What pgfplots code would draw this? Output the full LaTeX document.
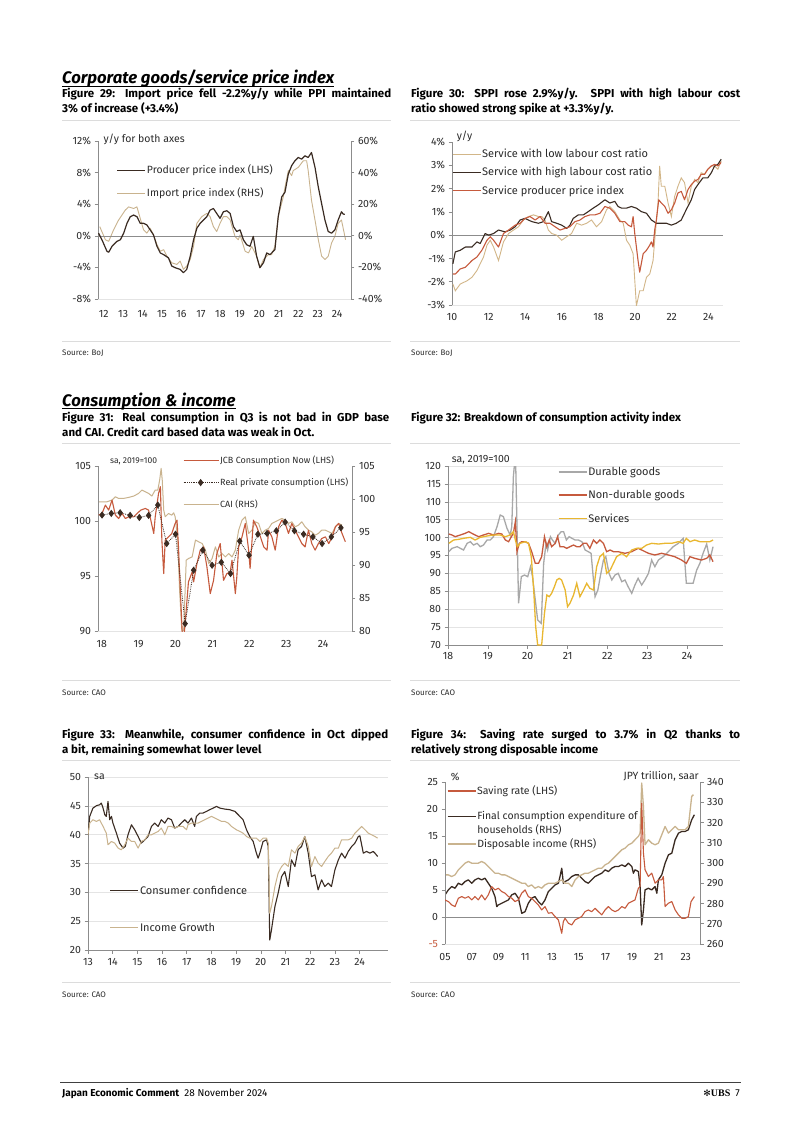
\documentclass[border=0pt]{standalone}
\usepackage{fontspec}
\setmainfont{Fira Sans}
\newfontfamily\symfont{DejaVu Sans}
\newfontfamily\ubsfont{Liberation Serif}
\usepackage{pgfplots}
\pgfplotsset{compat=1.18}
\definecolor{dk}{HTML}{3A2B22}
\definecolor{tn}{HTML}{C9B38E}
\definecolor{tl2}{HTML}{D2B688}
\definecolor{rd}{HTML}{C65A3D}
\definecolor{gy}{HTML}{A8A8A8}
\definecolor{yl}{HTML}{E9B730}
\definecolor{ax}{HTML}{8C8C8C}
\definecolor{grd}{HTML}{E4E4E4}
\definecolor{rule}{HTML}{DCDCDC}
\definecolor{txt}{HTML}{2B2B2B}
\pgfplotsset{
  ch/.style={
    scale only axis, anchor=south west, clip mode=individual,
    /pgf/number format/assume math mode=true,
    axis line style={draw=ax, line width=0.6pt},
    tick style={draw=ax, line width=0.6pt},
    major tick length=3.5pt,
    ticklabel style={font=\fontsize{10.5}{12}\selectfont, text=txt},
    legend cell align=left,
    legend style={draw=none, fill=none, inner sep=0pt, outer sep=0pt, anchor=north west, text=txt,
      nodes={inner sep=1pt}, /tikz/every even column/.append style={column sep=2pt}},
    legend image code/.code={\draw[##1, mark repeat=2, mark phase=2] plot coordinates {(0pt,0pt) (14pt,0pt) (28pt,0pt)};},
  },
  lft/.style={axis y line*=left, axis x line*=bottom, tick align=outside, ytick pos=left},
  rgt/.style={axis y line*=right, axis x line=none, tick align=outside, ytick pos=right},
  sdk/.style={color=dk, line width=1.1pt, mark=none, line join=round},
  stn/.style={color=tn, line width=0.9pt, mark=none, line join=round},
  srd/.style={color=rd, line width=1.1pt, mark=none, line join=round},
}
\tikzset{
  tl/.style={anchor=base west, inner sep=0pt, font=\bfseries\fontsize{11.5}{13}\selectfont, text=black},
  hd/.style={anchor=base west, inner sep=0pt, font=\bfseries\itshape\fontsize{16.7}{19}\selectfont, text=black},
  src/.style={anchor=base west, inner sep=0pt, font=\fontsize{8}{9}\selectfont, text=txt},
  note/.style={inner sep=0pt, font=\fontsize{10.5}{12}\selectfont, text=txt},
}
\begin{document}
\begin{tikzpicture}
\path[use as bounding box, fill=white] (0pt,0pt) rectangle (802pt,-1134pt);

% ---------------- headings, titles, rules, sources
\node[hd] (h1) at (62pt,-84pt) {Corporate goods/service price index};
\draw[black, line width=1.1pt] ([yshift=-2.2pt]h1.base west) -- ([yshift=-2.2pt]h1.base east);
\node[hd] (h2) at (62pt,-406pt) {Consumption \& income};
\draw[black, line width=1.1pt] ([yshift=-2.2pt]h2.base west) -- ([yshift=-2.2pt]h2.base east);
\node[tl] at (62pt,-98pt) {\makebox[329pt][s]{Figure 29: Import price fell -2.2\%y/y while PPI maintained}};
\node[tl] at (62pt,-113pt) {3\% of increase (+3.4\%)};
\node[tl] at (411pt,-98pt) {\makebox[329pt][s]{Figure 30: SPPI rose 2.9\%y/y. SPPI with high labour cost}};
\node[tl] at (411pt,-113pt) {ratio showed strong spike at +3.3\%y/y.};
\node[tl] at (62pt,-421.7pt) {\makebox[327pt][s]{Figure 31: Real consumption in Q3 is not bad in GDP base}};
\node[tl] at (62pt,-436.7pt) {and CAI. Credit card based data was weak in Oct.};
\node[tl] at (411pt,-421.7pt) {Figure 32: Breakdown of consumption activity index};
\node[tl] at (62pt,-738.5pt) {\makebox[326pt][s]{Figure 33: Meanwhile, consumer confidence in Oct dipped}};
\node[tl] at (62pt,-753pt) {a bit, remaining somewhat lower level};
\node[tl] at (411pt,-738.5pt) {\makebox[329pt][s]{Figure 34: Saving rate surged to 3.7\% in Q2 thanks to}};
\node[tl] at (411pt,-753pt) {relatively strong disposable income};
\foreach \yy in {120,341,443,680,760,982}{
  \draw[rule, line width=0.5pt] (62pt,-\yy pt) -- (391pt,-\yy pt);
  \draw[rule, line width=0.5pt] (410pt,-\yy pt) -- (740pt,-\yy pt);
}
\node[src] at (62pt,-355.5pt) {Source: BoJ};
\node[src] at (411pt,-355.5pt) {Source: BoJ};
\node[src] at (62pt,-695pt) {Source: CAO};
\node[src] at (411pt,-695pt) {Source: CAO};
\node[src] at (62pt,-997pt) {Source: CAO};
\node[src] at (411pt,-997pt) {Source: CAO};
\draw[black!75, line width=0.8pt] (60pt,-1082pt) -- (741pt,-1082pt);
\node[anchor=base west, inner sep=0pt, font=\fontsize{10}{11}\selectfont] at (62pt,-1096.5pt) {\textbf{Japan Economic Comment}\enspace 28 November 2024};
\node[anchor=base east, inner sep=0pt, font=\fontsize{10}{11}\selectfont] at (740pt,-1096.5pt) {{\symfont\small ✻}{\ubsfont\bfseries UBS}\enspace 7};

% ================= Figure 29 =================
\begin{axis}[ch, rgt, at={(98pt,-299pt)}, width=253pt, height=158pt,
  xmin=2012, xmax=2025, ymin=-40, ymax=60,
  ytick={-40,-20,0,20,40,60}, yticklabels={-40\%,-20\%,0\%,20\%,40\%,60\%}]
\addplot[stn] coordinates {(2012.09,5.8)(2012.38,-2.5)(2012.55,-3.5)(2012.8,3.75)(2013.06,10)(2013.23,13.1)(2013.4,16.25)(2013.57,18.3)(2013.83,17.3)(2014.0,18.3)(2014.17,11)(2014.34,3.75)(2014.51,1.7)(2014.68,4.8)(2014.85,0.6)(2015.03,-5.6)(2015.2,-9.8)(2015.37,-8.75)(2015.54,-12.9)(2015.79,-17.1)(2016.05,-18.1)(2016.22,-16)(2016.39,-21.25)(2016.56,-19.2)(2016.74,-15)(2016.91,-6.7)(2017.08,7.9)(2017.33,12.1)(2017.59,14.2)(2017.76,12.1)(2017.93,5.8)(2018.1,2.7)(2018.27,7.9)(2018.44,12.1)(2018.62,12.1)(2018.79,10)(2019.04,-0.4)(2019.21,-2.5)(2019.3,0.6)(2019.56,-9.8)(2019.73,-10.8)(2019.9,-6.7)(2020.15,-12.9)(2020.32,-20.2)(2020.5,-15)(2020.75,-11.9)(2020.92,-11.9)(2021.09,-6.7)(2021.26,12.1)(2021.52,24.6)(2021.61,30.8)(2021.78,41.25)(2021.95,38.1)(2022.03,41.25)(2022.29,43.3)(2022.55,47.5)(2022.72,47.5)(2022.8,41.25)(2022.97,22.5)(2023.15,10)(2023.32,-2.5)(2023.49,-12.9)(2023.66,-15)(2023.83,-12.9)(2024.0,-4.6)(2024.17,-0.4)(2024.34,7.9)(2024.51,10)(2024.65,1.7)(2024.72,-2.5)};
\end{axis}
\begin{axis}[ch, lft, at={(98pt,-299pt)}, width=253pt, height=158pt,
  xmin=2012, xmax=2025, ymin=-8, ymax=12,
  x axis line style={draw=grd}, xtick style={draw=none},
  ytick={-8,-4,0,4,8,12}, yticklabels={-8\%,-4\%,0\%,4\%,8\%,12\%},
  xtick={2012.29,2013.29,2014.29,2015.29,2016.29,2017.29,2018.29,2019.29,2020.29,2021.29,2022.29,2023.29,2024.29},
  xticklabels={12,13,14,15,16,17,18,19,20,21,22,23,24},
  xticklabel style={yshift=-4pt},
  legend style={at={(0.074,0.854)}, row sep=10.5pt, font=\fontsize{10.5}{12}\selectfont}]
\draw[ax, line width=0.6pt] (axis cs:2012,0) -- (axis cs:2025,0);
\addplot[sdk, line width=1.2pt] coordinates {(2012.03,0.33)(2012.24,-0.71)(2012.46,-1.96)(2012.55,-2.08)(2012.72,-1.33)(2012.97,-0.71)(2013.15,-0.5)(2013.32,0.33)(2013.49,1.58)(2013.66,2.42)(2013.83,2.63)(2014.0,2.42)(2014.17,1.58)(2014.34,1.58)(2014.51,1.38)(2014.68,0.75)(2014.85,0.13)(2015.03,-1.33)(2015.2,-2.17)(2015.37,-2.38)(2015.62,-2.79)(2015.79,-3.83)(2015.97,-4.04)(2016.22,-4.25)(2016.39,-4.67)(2016.56,-4.25)(2016.74,-2.58)(2016.91,-0.5)(2017.08,0.96)(2017.25,1.58)(2017.42,2.0)(2017.59,2.42)(2017.76,3.25)(2017.93,3.46)(2018.1,2.83)(2018.27,2.21)(2018.44,3.04)(2018.62,3.17)(2018.79,2.83)(2018.96,1.17)(2019.13,0.54)(2019.3,0.75)(2019.47,-0.5)(2019.64,-1.13)(2019.81,-1.33)(2019.98,-0.08)(2020.15,-2.58)(2020.32,-4.04)(2020.5,-3.42)(2020.67,-2.17)(2020.84,-2.38)(2021.09,-1.75)(2021.26,2.42)(2021.44,4.92)(2021.61,5.54)(2021.78,7.83)(2021.95,8.88)(2022.12,9.5)(2022.29,9.92)(2022.46,9.71)(2022.63,10.13)(2022.8,9.92)(2022.97,10.54)(2023.15,8.67)(2023.32,6.17)(2023.49,4.08)(2023.66,2.0)(2023.83,0.54)(2024.0,0.33)(2024.17,0.75)(2024.34,2.0)(2024.51,3.04)(2024.6,2.75)(2024.68,2.71)};
\addlegendentry{Producer price index (LHS)}
\addlegendimage{stn}
\addlegendentry{Import price index (RHS)}
\node[note, anchor=base west] at (rel axis cs:0.021,0.992) {y/y for both axes};
\end{axis}

% ================= Figure 30 =================
\begin{axis}[ch, lft, at={(452pt,-305pt)}, width=271pt, height=163pt,
  xmin=2010, xmax=2024.8, ymin=-3, ymax=4,
  x axis line style={draw=grd}, xtick style={draw=none},
  ytick={-3,-2,-1,0,1,2,3,4}, yticklabels={-3\%,-2\%,-1\%,0\%,1\%,2\%,3\%,4\%},
  xtick={2010,2012,2014,2016,2018,2020,2022,2024}, xticklabels={10,12,14,16,18,20,22,24},
  xticklabel style={yshift=-1.5pt},
  legend style={at={(0.0,0.963)}, row sep=6.2pt, font=\fontsize{11}{13}\selectfont}]
\draw[ax, line width=0.6pt] (axis cs:2010,0) -- (axis cs:2024.8,0);
\addplot[color=tl2, line width=0.9pt] coordinates {(2010.05,-2.1)(2010.18,-2.39)(2010.45,-2.1)(2010.82,-1.96)(2011.09,-1.81)(2011.36,-1.52)(2011.54,-1.23)(2011.72,-0.94)(2011.91,-0.43)(2012.09,-0.22)(2012.27,-0.51)(2012.54,-1.09)(2012.81,-0.29)(2013.09,0.07)(2013.36,0.22)(2013.63,0.36)(2013.9,0.65)(2014.17,0.8)(2014.45,0.87)(2014.72,0.8)(2014.9,0.8)(2015.08,0.65)(2015.26,0.22)(2015.44,0.07)(2015.72,0)(2015.99,-0.22)(2016.26,-0.07)(2016.53,0.07)(2016.81,0.51)(2017.08,0.43)(2017.35,0.51)(2017.62,0.65)(2017.89,0.36)(2018.17,0.58)(2018.44,1.09)(2018.62,1.23)(2018.89,1.01)(2019.17,0.65)(2019.35,0.51)(2019.53,-0.22)(2019.71,-0.43)(2019.89,-0.8)(2020.07,-3.04)(2020.25,-2.39)(2020.44,-2.39)(2020.62,-1.81)(2020.8,-1.67)(2020.98,-1.09)(2021.07,-0.22)(2021.25,1.38)(2021.34,2.97)(2021.43,2.1)(2021.62,2.1)(2021.8,1.38)(2021.98,0.8)(2022.16,1.67)(2022.34,2.1)(2022.52,2.46)(2022.7,2.25)(2022.89,1.38)(2023.07,2.1)(2023.25,2.39)(2023.43,2.25)(2023.61,2.68)(2023.79,2.61)(2023.97,2.83)(2024.16,2.97)(2024.34,2.97)(2024.52,2.83)(2024.7,3.19)};
\addlegendentry{Service with low labour cost ratio}
\addplot[sdk] coordinates {(2010.05,-1.23)(2010.18,-0.72)(2010.45,-0.65)(2010.73,-0.51)(2011.09,-0.51)(2011.36,-0.29)(2011.54,-0.36)(2011.81,0.07)(2012.0,0)(2012.27,0.07)(2012.54,0.22)(2012.9,0.14)(2013.18,0.22)(2013.45,0.36)(2013.72,0.65)(2013.99,0.72)(2014.36,0.58)(2014.72,0.51)(2014.99,0.58)(2015.26,1.01)(2015.44,0.58)(2015.72,0.51)(2015.99,0.43)(2016.26,0.29)(2016.44,0.43)(2016.62,0.72)(2016.9,0.87)(2017.17,0.87)(2017.44,1.01)(2017.71,1.16)(2017.99,1.3)(2018.35,1.52)(2018.62,1.38)(2018.89,1.45)(2019.07,1.23)(2019.26,1.16)(2019.53,1.16)(2019.8,1.23)(2020.07,1.16)(2020.34,1.01)(2020.62,0.94)(2020.89,0.65)(2021.16,0.51)(2021.43,0.51)(2021.71,0.51)(2021.98,0.43)(2022.25,0.51)(2022.52,0.65)(2022.79,1.09)(2023.07,1.52)(2023.25,1.96)(2023.43,2.17)(2023.7,2.46)(2023.97,2.46)(2024.16,2.68)(2024.34,2.97)(2024.52,3.04)(2024.7,3.26)};
\addlegendentry{Service with high labour cost ratio}
\addplot[srd] coordinates {(2010.05,-1.67)(2010.18,-1.67)(2010.45,-1.45)(2010.73,-1.38)(2011.09,-1.09)(2011.36,-0.94)(2011.63,-0.65)(2011.91,-0.22)(2012.09,-0.07)(2012.27,-0.22)(2012.54,-0.51)(2012.81,0.07)(2013.09,0.22)(2013.45,0.43)(2013.72,0.51)(2013.99,0.72)(2014.26,0.8)(2014.54,0.65)(2014.81,0.8)(2015.08,0.51)(2015.35,0.51)(2015.63,0.36)(2015.9,0.22)(2016.17,0.29)(2016.44,0.36)(2016.72,0.58)(2016.99,0.65)(2017.26,0.8)(2017.53,0.87)(2017.8,0.87)(2018.08,0.94)(2018.35,1.23)(2018.62,1.16)(2018.89,0.94)(2019.17,0.58)(2019.44,0.58)(2019.62,0.43)(2019.8,0.36)(2019.89,0.8)(2019.98,0.07)(2020.16,-1.09)(2020.25,-1.59)(2020.44,-0.8)(2020.62,-0.65)(2020.8,-0.43)(2020.89,-0.29)(2020.98,-0.51)(2021.07,0.22)(2021.16,0.65)(2021.29,1.52)(2021.43,1.38)(2021.62,1.23)(2021.8,0.94)(2021.98,1.09)(2022.16,1.38)(2022.34,1.81)(2022.52,1.88)(2022.7,1.52)(2022.89,1.96)(2023.07,2.17)(2023.25,2.32)(2023.43,2.39)(2023.61,2.61)(2023.79,2.61)(2023.97,2.83)(2024.16,2.97)(2024.34,3.04)(2024.52,2.97)(2024.7,3.12)};
\addlegendentry{Service producer price index}
\node[note, anchor=base west] at (rel axis cs:0.017,1.017) {y/y};
\end{axis}

% ================= Figure 31 =================
\begin{axis}[ch, rgt, at={(98pt,-631pt)}, width=254pt, height=165pt,
  xmin=2018, xmax=2024.88, ymin=80, ymax=105, ytick={80,85,90,95,100,105}]
\addplot[stn, line width=1pt] coordinates {(2018.02,99.58)(2018.24,99.58)(2018.38,99.84)(2018.47,100.34)(2018.56,100.09)(2018.69,100.09)(2018.83,100.24)(2018.97,100.45)(2019.1,100.85)(2019.19,101.36)(2019.28,101.1)(2019.37,100.85)(2019.46,100.45)(2019.55,101.36)(2019.62,101.36)(2019.67,102.87)(2019.71,104.65)(2019.74,102.87)(2019.78,98.32)(2019.82,97.31)(2019.91,97.81)(2020.0,97.56)(2020.05,97.91)(2020.09,97.31)(2020.16,93.77)(2020.21,86.17)(2020.27,80.1)(2020.32,80.1)(2020.39,90.73)(2020.45,90.98)(2020.55,91.23)(2020.64,93.77)(2020.73,93.51)(2020.82,93.26)(2020.91,92.25)(2021.0,90.22)(2021.09,90.98)(2021.18,92.75)(2021.27,91.23)(2021.36,91.74)(2021.45,91.23)(2021.54,91.74)(2021.63,91.23)(2021.72,92.25)(2021.81,95.28)(2021.9,96.8)(2021.99,97.31)(2022.08,94.78)(2022.17,95.28)(2022.26,96.55)(2022.35,96.3)(2022.44,94.78)(2022.53,95.28)(2022.62,95.54)(2022.71,96.3)(2022.8,96.55)(2022.89,96.8)(2022.98,97.05)(2023.07,96.8)(2023.16,96.3)(2023.25,96.55)(2023.34,95.79)(2023.43,96.04)(2023.52,96.55)(2023.61,95.79)(2023.7,95.28)(2023.79,95.03)(2023.88,94.52)(2023.97,94.78)(2024.06,95.28)(2024.16,95.28)(2024.25,95.03)(2024.34,94.78)(2024.43,95.79)(2024.52,96.3)(2024.61,96.04)};
\end{axis}
\begin{axis}[ch, lft, at={(98pt,-631pt)}, width=254pt, height=165pt,
  xmin=2018, xmax=2024.88, ymin=90, ymax=105, ytick={90,95,100,105},
  x axis line style={draw=grd}, xtick style={draw=none},
  xtick={2018.1,2019.1,2020.1,2021.1,2022.1,2023.1,2024.1}, xticklabels={18,19,20,21,22,23,24},
  xticklabel style={yshift=-2pt},
  legend image code/.code={\draw[#1, mark repeat=2, mark phase=2] plot coordinates {(0pt,0pt) (17pt,0pt) (35pt,0pt)};},
  legend style={at={(0.335,1.067)}, row sep=11pt, font=\fontsize{9}{11}\selectfont}]
\addplot[srd] coordinates {(2018.02,100.54)(2018.11,100.69)(2018.2,101.45)(2018.29,100.99)(2018.38,101.9)(2018.47,100.54)(2018.56,100.23)(2018.65,100.69)(2018.74,100.23)(2018.83,100.38)(2018.97,100.38)(2019.06,100.69)(2019.16,100.99)(2019.28,101.14)(2019.37,100.99)(2019.51,98.87)(2019.55,100.38)(2019.64,102.51)(2019.69,103.12)(2019.73,98.26)(2019.78,95.22)(2019.82,98.26)(2019.91,98.56)(2020.0,98.87)(2020.09,99.78)(2020.14,100.08)(2020.18,97.65)(2020.23,93.7)(2020.3,88.5)(2020.36,90.67)(2020.45,94.46)(2020.55,95.37)(2020.59,94.46)(2020.68,96.13)(2020.77,97.35)(2020.86,97.65)(2020.95,95.83)(2021.04,93.4)(2021.13,94.61)(2021.22,97.04)(2021.31,97.95)(2021.4,94.61)(2021.49,95.22)(2021.58,95.37)(2021.63,96.44)(2021.72,93.4)(2021.76,94.92)(2021.81,97.65)(2021.9,98.56)(2021.99,99.78)(2022.08,97.35)(2022.12,95.68)(2022.21,100.08)(2022.3,99.47)(2022.4,98.56)(2022.49,97.65)(2022.58,97.35)(2022.62,99.17)(2022.71,98.56)(2022.8,97.35)(2022.89,99.47)(2022.98,100.08)(2023.07,99.78)(2023.16,98.87)(2023.25,99.78)(2023.34,99.17)(2023.43,98.56)(2023.52,97.95)(2023.61,97.65)(2023.7,99.17)(2023.79,97.95)(2023.88,97.35)(2023.97,97.95)(2024.06,98.41)(2024.16,98.56)(2024.25,97.95)(2024.34,98.56)(2024.43,99.47)(2024.52,99.78)(2024.61,98.87)(2024.7,98.11)};
\addlegendentry{JCB Consumption Now (LHS)}
\addplot[color=dk, densely dotted, line width=0.8pt, mark=diamond*, mark size=3pt, mark options={solid, fill=dk, draw=dk}] coordinates {(2018.11,100.54)(2018.36,100.69)(2018.6,100.75)(2018.87,100.51)(2019.12,100.32)(2019.37,100.51)(2019.62,101.45)(2019.86,97.95)(2020.1,98.8)(2020.36,90.67)(2020.59,95.53)(2020.84,97.35)(2021.09,95.98)(2021.34,96.25)(2021.59,95.22)(2021.84,98.17)(2022.09,96.89)(2022.33,98.8)(2022.58,98.87)(2022.83,99.11)(2023.07,99.9)(2023.32,99.11)(2023.57,98.8)(2023.82,98.56)(2024.07,97.95)(2024.32,98.56)(2024.58,99.38)};
\addlegendentry{Real private consumption (LHS)}
\addlegendimage{stn, line width=1pt}
\addlegendentry{CAI (RHS)}
\node[note, anchor=base west, font=\fontsize{8.5}{10}\selectfont] at (rel axis cs:0.047,1.016) {sa, 2019=100};
\end{axis}

% ================= Figure 32 =================
\begin{axis}[ch, lft, at={(448pt,-645pt)}, width=275pt, height=179pt,
  xmin=2018, xmax=2024.9, ymin=70, ymax=120, ytick={70,75,...,120},
  ymajorgrids, major grid style={draw=grd, line width=0.6pt},
  xtick={2018,2019,2020,2021,2022,2023,2024}, xticklabels={18,19,20,21,22,23,24},
  legend style={at={(0.4,1.0)}, row sep=11.5pt, font=\fontsize{11}{13}\selectfont}]
\addplot[color=gy, line width=1.3pt] coordinates {(2018.02,96.07)(2018.1,97.0)(2018.23,97.47)(2018.31,97.0)(2018.39,96.54)(2018.48,98.4)(2018.56,98.86)(2018.64,97.93)(2018.73,98.4)(2018.81,97.47)(2018.89,97.93)(2018.98,99.33)(2019.06,99.33)(2019.14,100.26)(2019.23,103.05)(2019.31,106.31)(2019.39,105.85)(2019.48,102.59)(2019.56,100.73)(2019.6,103.05)(2019.64,117.02)(2019.67,120.74)(2019.7,119.81)(2019.74,98.4)(2019.77,81.64)(2019.84,89.09)(2019.92,89.55)(2020.0,89.09)(2020.07,91.88)(2020.12,89.09)(2020.19,82.57)(2020.25,76.98)(2020.34,76.05)(2020.4,92.81)(2020.46,98.4)(2020.5,96.54)(2020.57,100.26)(2020.62,99.33)(2020.69,98.4)(2020.77,100.73)(2020.84,101.66)(2020.9,101.66)(2020.97,99.33)(2021.04,100.26)(2021.11,99.8)(2021.19,99.33)(2021.27,99.33)(2021.36,98.86)(2021.44,96.54)(2021.52,96.07)(2021.59,95.61)(2021.65,88.16)(2021.69,83.5)(2021.76,85.36)(2021.82,89.09)(2021.9,93.74)(2021.96,94.67)(2022.04,90.02)(2022.11,88.16)(2022.19,89.55)(2022.27,90.02)(2022.36,87.69)(2022.44,88.16)(2022.52,86.29)(2022.61,84.43)(2022.69,86.76)(2022.77,88.62)(2022.86,86.76)(2022.94,88.16)(2023.03,90.02)(2023.11,93.74)(2023.19,91.88)(2023.28,93.74)(2023.4,94.67)(2023.53,96.07)(2023.65,97.47)(2023.78,98.4)(2023.9,99.8)(2023.98,87.23)(2024.07,87.23)(2024.15,87.23)(2024.24,90.95)(2024.32,92.81)(2024.4,95.61)(2024.49,98.21)(2024.57,93.74)(2024.65,97.47)};
\addlegendentry{Durable goods}
\addplot[color=rd, line width=1.3pt] coordinates {(2018.02,101.0)(2018.1,100.73)(2018.18,100.26)(2018.31,100.73)(2018.43,101.19)(2018.52,101.66)(2018.6,101.19)(2018.68,100.73)(2018.77,100.26)(2018.89,100.73)(2019.02,101.19)(2019.14,100.73)(2019.27,101.19)(2019.35,101.0)(2019.44,99.33)(2019.52,98.86)(2019.59,100.26)(2019.64,101.19)(2019.69,104.45)(2019.73,96.07)(2019.79,98.4)(2019.85,98.86)(2019.94,98.86)(2020.02,98.4)(2020.1,96.07)(2020.19,92.81)(2020.27,92.81)(2020.35,94.67)(2020.42,100.26)(2020.48,97.47)(2020.54,99.33)(2020.6,97.47)(2020.69,98.4)(2020.75,100.26)(2020.81,97.47)(2020.9,97.47)(2020.98,97.0)(2021.06,97.47)(2021.15,97.93)(2021.23,97.47)(2021.31,97.47)(2021.4,98.4)(2021.48,98.4)(2021.56,97.0)(2021.65,99.33)(2021.73,98.4)(2021.81,99.33)(2021.9,98.4)(2021.98,96.07)(2022.07,96.54)(2022.15,96.07)(2022.27,96.07)(2022.44,95.61)(2022.61,96.07)(2022.69,96.54)(2022.77,97.0)(2022.86,96.54)(2023.03,95.61)(2023.19,95.14)(2023.36,95.61)(2023.53,95.14)(2023.69,94.67)(2023.86,93.74)(2023.98,92.81)(2024.07,94.67)(2024.19,94.21)(2024.36,93.74)(2024.49,94.21)(2024.57,95.14)(2024.65,93.28)};
\addlegendentry{Non-durable goods}
\addplot[color=yl, line width=1.3pt] coordinates {(2018.02,98.4)(2018.14,99.33)(2018.27,99.52)(2018.39,99.8)(2018.56,100.07)(2018.68,99.33)(2018.81,100.07)(2018.98,100.45)(2019.14,100.73)(2019.31,100.73)(2019.44,100.26)(2019.56,100.73)(2019.64,101.66)(2019.69,99.33)(2019.74,97.47)(2019.81,98.4)(2019.94,98.86)(2020.02,98.4)(2020.09,94.67)(2020.15,85.36)(2020.2,75.12)(2020.25,70.0)(2020.35,70.0)(2020.42,78.85)(2020.48,83.97)(2020.54,83.5)(2020.6,84.43)(2020.67,86.29)(2020.73,88.16)(2020.79,88.62)(2020.85,88.16)(2020.94,85.36)(2021.0,80.71)(2021.06,81.64)(2021.15,83.97)(2021.23,87.23)(2021.31,83.5)(2021.4,85.36)(2021.48,87.23)(2021.56,85.83)(2021.65,85.36)(2021.73,91.88)(2021.81,94.67)(2021.9,95.61)(2021.98,90.02)(2022.07,90.95)(2022.15,92.81)(2022.23,94.67)(2022.36,95.61)(2022.48,94.67)(2022.61,96.54)(2022.73,97.0)(2022.86,97.0)(2022.98,97.93)(2023.11,98.4)(2023.28,98.21)(2023.44,98.4)(2023.61,98.4)(2023.78,98.86)(2023.9,98.4)(2023.98,99.8)(2024.07,98.86)(2024.19,99.33)(2024.32,98.86)(2024.44,98.86)(2024.57,98.86)(2024.65,99.33)};
\addlegendentry{Services}
\node[note, anchor=base west, font=\fontsize{10.5}{12}\selectfont] at (rel axis cs:0.013,1.02) {sa, 2019=100};
\end{axis}

% ================= Figure 33 =================
\begin{axis}[ch, lft, at={(88pt,-950pt)}, width=300pt, height=173pt,
  xmin=2013, xmax=2025.15, ymin=20, ymax=50, ytick={20,25,...,50},
  ymajorgrids, major grid style={draw=grd, line width=0.6pt},
  xtick={2013,2014,...,2024}, xticklabels={13,14,15,16,17,18,19,20,21,22,23,24},
  xticklabel style={yshift=-1pt},
  legend style={at={(0.073,0.376)}, row sep=25.2pt, font=\fontsize{11}{13}\selectfont}]
\addplot[sdk] coordinates {(2013.0,39.98)(2013.07,43.17)(2013.2,44.61)(2013.34,45.02)(2013.47,45.19)(2013.54,45.48)(2013.61,44.61)(2013.68,43.46)(2013.74,43.17)(2013.81,45.77)(2013.88,42.59)(2013.95,43.17)(2014.01,42.01)(2014.15,40.27)(2014.28,38.54)(2014.42,37.67)(2014.51,37.96)(2014.62,39.98)(2014.76,41.72)(2014.89,40.85)(2015.03,39.69)(2015.16,38.54)(2015.3,39.11)(2015.43,39.69)(2015.57,41.43)(2015.7,42.01)(2015.84,41.43)(2015.97,42.59)(2016.11,42.01)(2016.24,42.88)(2016.38,42.59)(2016.51,41.14)(2016.65,41.43)(2016.78,42.01)(2016.92,42.59)(2017.05,42.01)(2017.19,42.88)(2017.32,41.43)(2017.39,43.17)(2017.53,43.75)(2017.66,43.75)(2017.8,44.04)(2017.93,44.33)(2018.07,44.61)(2018.2,44.9)(2018.34,44.61)(2018.54,44.44)(2018.74,44.33)(2018.95,44.04)(2019.15,43.17)(2019.28,42.59)(2019.42,40.85)(2019.55,39.69)(2019.69,38.82)(2019.82,36.8)(2019.89,35.93)(2019.96,36.8)(2020.09,38.82)(2020.23,39.11)(2020.3,37.96)(2020.36,21.74)(2020.43,23.48)(2020.57,27.53)(2020.7,29.85)(2020.84,32.74)(2020.97,33.61)(2021.11,31.01)(2021.24,35.64)(2021.38,34.48)(2021.51,37.38)(2021.65,37.96)(2021.78,39.69)(2021.92,36.8)(2022.05,32.74)(2022.19,33.03)(2022.32,30.43)(2022.46,32.17)(2022.59,31.01)(2022.73,31.59)(2022.86,31.01)(2023.0,33.9)(2023.14,35.64)(2023.27,36.8)(2023.41,35.93)(2023.54,37.09)(2023.68,37.96)(2023.81,38.54)(2023.95,39.69)(2024.01,39.81)(2024.15,36.8)(2024.28,37.09)(2024.42,36.8)(2024.55,37.09)(2024.62,36.8)(2024.73,36.22)};
\addlegendentry{Consumer confidence}
\addplot[stn, line width=1pt] coordinates {(2013.0,39.98)(2013.07,42.01)(2013.2,42.59)(2013.34,42.3)(2013.47,42.59)(2013.61,41.43)(2013.74,40.27)(2013.81,38.25)(2013.95,38.82)(2014.08,38.54)(2014.22,37.67)(2014.35,37.38)(2014.49,38.25)(2014.62,39.4)(2014.76,38.82)(2014.89,38.82)(2015.03,37.67)(2015.16,38.82)(2015.3,39.11)(2015.43,39.98)(2015.57,39.98)(2015.7,40.27)(2015.84,40.56)(2015.97,41.14)(2016.11,39.98)(2016.24,41.43)(2016.38,41.43)(2016.51,41.14)(2016.65,41.43)(2016.85,41.43)(2016.99,40.85)(2017.05,41.72)(2017.19,42.01)(2017.32,42.01)(2017.46,42.01)(2017.59,42.3)(2017.73,42.59)(2017.86,42.88)(2018.0,43.17)(2018.14,42.88)(2018.27,42.59)(2018.41,42.3)(2018.54,42.3)(2018.68,42.01)(2018.81,41.43)(2019.01,40.85)(2019.15,40.56)(2019.28,40.27)(2019.42,39.69)(2019.55,39.4)(2019.69,39.4)(2019.82,39.4)(2019.96,38.82)(2020.09,39.4)(2020.23,39.4)(2020.3,38.54)(2020.36,26.38)(2020.43,27.53)(2020.57,31.01)(2020.7,33.32)(2020.84,34.48)(2020.97,35.06)(2021.11,34.48)(2021.24,37.38)(2021.38,36.8)(2021.51,37.96)(2021.65,38.54)(2021.78,39.69)(2021.92,37.96)(2022.05,34.48)(2022.19,36.22)(2022.32,35.06)(2022.46,34.48)(2022.59,35.35)(2022.73,36.22)(2022.86,36.8)(2023.0,37.67)(2023.14,37.67)(2023.27,39.11)(2023.41,39.11)(2023.54,39.11)(2023.68,39.4)(2023.81,40.27)(2023.95,40.85)(2024.08,41.43)(2024.22,40.85)(2024.35,40.27)(2024.49,39.98)(2024.62,39.69)(2024.73,39.4)};
\addlegendentry{Income Growth}
\node[note, anchor=base west] at (rel axis cs:0.02,0.988) {sa};
\end{axis}

% ================= Figure 34 =================
\begin{axis}[ch, rgt, at={(445pt,-944pt)}, width=255pt, height=162pt,
  xmin=2005, xmax=2024.07, ymin=260, ymax=340, ytick={260,270,...,340},
  legend style={at={(0.008,0.823)}, row sep=1.5pt, font=\fontsize{10.5}{12}\selectfont}]
\addplot[sdk, line width=1.3pt] coordinates {(2005.0,284.25)(2005.25,286.72)(2005.5,288.37)(2005.75,287.55)(2006.0,290.02)(2006.25,289.2)(2006.5,290.85)(2006.75,291.67)(2007.0,290.02)(2007.24,291.67)(2007.49,292.49)(2007.74,291.67)(2007.99,292.49)(2008.24,290.02)(2008.49,287.55)(2008.74,283.42)(2008.87,278.47)(2008.99,279.3)(2009.24,280.12)(2009.49,280.95)(2009.74,281.77)(2009.99,284.25)(2010.24,285.07)(2010.49,282.6)(2010.74,275.18)(2010.99,276.0)(2011.23,280.12)(2011.48,282.6)(2011.73,283.42)(2011.98,280.95)(2012.23,279.3)(2012.48,281.77)(2012.73,285.9)(2012.98,287.55)(2013.23,289.2)(2013.48,290.02)(2013.6,293.32)(2013.73,297.44)(2013.85,290.02)(2013.98,290.85)(2014.23,291.67)(2014.48,293.32)(2014.73,294.14)(2014.98,294.14)(2015.22,292.49)(2015.47,290.85)(2015.72,290.02)(2015.97,291.67)(2016.22,293.32)(2016.47,294.14)(2016.72,294.97)(2016.97,296.62)(2017.22,295.79)(2017.47,297.44)(2017.72,298.27)(2017.97,298.27)(2018.22,299.09)(2018.47,298.27)(2018.72,299.92)(2018.97,298.27)(2019.09,294.97)(2019.21,296.62)(2019.46,295.79)(2019.59,288.37)(2019.71,269.4)(2019.84,276.82)(2019.96,286.72)(2020.21,287.55)(2020.46,286.72)(2020.71,288.37)(2020.84,285.07)(2020.96,291.67)(2021.21,294.14)(2021.46,299.92)(2021.71,304.04)(2021.96,304.87)(2022.21,311.46)(2022.46,314.76)(2022.71,315.59)(2022.96,315.59)(2023.2,316.41)(2023.45,321.36)(2023.65,323.84)};
\addlegendentry{Final consumption expenditure of}
\addlegendimage{empty legend}
\addlegendentry{households (RHS)}
\addplot[stn, line width=1.3pt] coordinates {(2005.0,294.14)(2005.25,294.14)(2005.5,293.32)(2005.75,294.14)(2006.0,296.62)(2006.25,298.27)(2006.5,299.92)(2006.75,300.74)(2007.0,299.92)(2007.24,299.92)(2007.49,299.92)(2007.74,300.74)(2007.99,299.92)(2008.24,298.27)(2008.49,296.62)(2008.74,294.97)(2008.99,294.97)(2009.24,294.14)(2009.49,294.14)(2009.74,293.32)(2009.99,292.49)(2010.24,291.67)(2010.49,290.85)(2010.74,290.02)(2010.99,290.02)(2011.23,288.37)(2011.48,289.2)(2011.73,287.55)(2011.98,288.37)(2012.23,287.55)(2012.48,289.2)(2012.73,290.02)(2012.98,290.02)(2013.23,290.02)(2013.48,290.85)(2013.73,291.67)(2013.98,290.02)(2014.23,290.02)(2014.48,288.37)(2014.73,291.67)(2014.98,293.32)(2015.22,294.14)(2015.47,294.97)(2015.72,294.97)(2015.97,295.79)(2016.22,296.62)(2016.47,297.44)(2016.72,297.44)(2016.97,299.09)(2017.22,299.92)(2017.47,301.57)(2017.72,303.22)(2017.97,304.87)(2018.22,306.52)(2018.47,307.34)(2018.72,308.99)(2018.97,309.81)(2019.21,311.46)(2019.46,313.11)(2019.59,314.76)(2019.71,339.51)(2019.84,327.96)(2019.96,308.99)(2020.21,311.46)(2020.46,309.81)(2020.71,308.99)(2020.96,309.81)(2021.21,313.94)(2021.46,318.06)(2021.71,314.76)(2021.96,316.41)(2022.21,318.06)(2022.46,316.41)(2022.71,316.41)(2022.96,316.41)(2023.2,318.06)(2023.45,332.91)(2023.58,333.73)};
\addlegendentry{Disposable income (RHS)}
\node[note, anchor=base east] at (rel axis cs:0.996,1.017) {JPY trillion, saar};
\end{axis}
\begin{axis}[ch, lft, at={(445pt,-944pt)}, width=255pt, height=162pt,
  xmin=2005, xmax=2024.07, ymin=-5, ymax=25, ytick={-5,0,5,10,15,20,25},
  yticklabels={\textcolor{rd}{-5},0,5,10,15,20,25},
  x axis line style={draw=grd}, xtick style={draw=none},
  xtick={2005,2007,...,2023}, xticklabels={05,07,09,11,13,15,17,19,21,23},
  xticklabel style={yshift=-2.5pt},
  legend style={at={(0.008,0.983)}, font=\fontsize{10.5}{12}\selectfont}]
\draw[ax, line width=0.6pt] (axis cs:2005,0) -- (axis cs:2024.07,0);
\addplot[srd] coordinates {(2005.0,3.17)(2005.25,2.86)(2005.5,2.24)(2005.75,1.93)(2006.0,3.48)(2006.25,3.79)(2006.5,3.48)(2006.75,3.79)(2007.0,3.17)(2007.24,3.79)(2007.49,3.17)(2007.74,4.1)(2007.99,3.17)(2008.24,4.1)(2008.49,5.64)(2008.74,5.02)(2008.99,5.33)(2009.24,4.72)(2009.49,4.41)(2009.74,3.79)(2009.99,3.48)(2010.24,2.86)(2010.49,3.17)(2010.74,4.41)(2010.99,5.02)(2011.23,3.79)(2011.48,3.48)(2011.73,2.86)(2011.98,2.24)(2012.23,1.31)(2012.48,1.93)(2012.73,0.7)(2012.98,0.82)(2013.23,0.08)(2013.48,-0.54)(2013.73,-3.01)(2013.85,-0.85)(2013.98,-0.23)(2014.23,-1.16)(2014.48,-1.47)(2014.73,-0.54)(2014.98,-0.23)(2015.22,0.08)(2015.47,1.0)(2015.72,1.31)(2015.97,1.0)(2016.22,1.62)(2016.47,1.0)(2016.72,0.39)(2016.97,1.31)(2017.22,1.93)(2017.47,1.31)(2017.72,1.0)(2017.97,1.31)(2018.22,1.93)(2018.47,1.62)(2018.72,2.55)(2018.97,2.86)(2019.21,3.17)(2019.46,5.33)(2019.59,5.64)(2019.71,21.1)(2019.84,11.83)(2019.96,8.74)(2020.21,7.5)(2020.46,8.12)(2020.71,6.26)(2020.96,6.88)(2021.21,6.88)(2021.33,7.5)(2021.46,1.93)(2021.71,2.55)(2021.96,2.86)(2022.21,1.31)(2022.46,0.39)(2022.71,-0.23)(2022.96,-0.23)(2023.2,0.08)(2023.4,2.86)(2023.65,3.79)};
\addlegendentry{Saving rate (LHS)}
\node[note, anchor=base west] at (rel axis cs:0.022,1.008) {\%};
\end{axis}
\end{tikzpicture}
\end{document}
